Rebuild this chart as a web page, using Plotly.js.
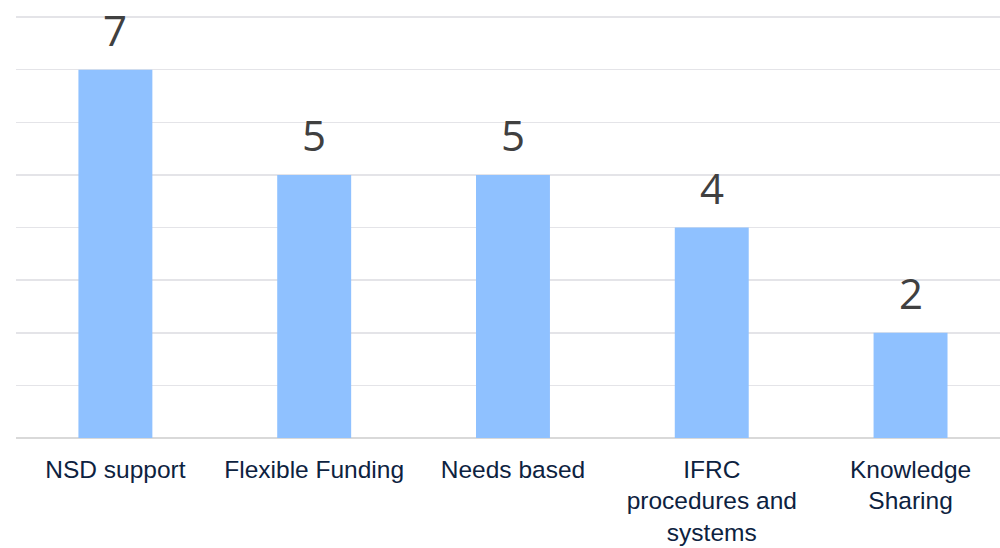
<!DOCTYPE html>
<html>
<head>
<meta charset="utf-8">
<script src="https://cdn.plot.ly/plotly-3.0.1.min.js"></script>
<style>html,body{margin:0;padding:0;background:#fff;}#chart{width:1000px;height:548px;}</style>
</head>
<body>
<div id="chart"></div>
<script>
const categories = ["NSD support", "Flexible Funding", "Needs based", "IFRC<br>procedures and<br>systems", "Knowledge<br>Sharing"];
const values = [7, 5, 5, 4, 2];
const valueLabels = ["7", "5", "5", "4", "2"];

const trace = {
  type: 'bar',
  x: categories,
  y: values,
  width: 0.372,
  marker: {color: '#8fc1ff'},
  hoverinfo: 'none'
};

const annotations = categories.map((c, i) => ({
  x: c, y: values[i], xref: 'x', yref: 'y',
  text: valueLabels[i], showarrow: false,
  yanchor: 'middle', yshift: 40,
  font: {family: 'Open Sans, sans-serif', size: 42, color: '#404040'}
}));

const layout = {
  width: 1000, height: 548,
  margin: {l: 16, r: 0, t: 16, b: 109.5},
  paper_bgcolor: '#ffffff', plot_bgcolor: '#ffffff',
  showlegend: false,
  xaxis: {
    range: [-0.5, 4.45],
    showgrid: false, zeroline: false,
    showline: false,
    ticks: '', ticklen: 0,
    ticklabelstandoff: 14,
    tickfont: {family: '"Liberation Sans", Arial, sans-serif', size: 24.5, color: '#0d2240'},
    fixedrange: true
  },
  yaxis: {
    range: [0, 8.02], dtick: 1, tick0: 0,
    showticklabels: false,
    showgrid: true, gridcolor: '#e4e4e8', gridwidth: 1.5,
    zeroline: true, zerolinecolor: '#d9d9d9', zerolinewidth: 2,
    showline: false, ticks: '', fixedrange: true
  },
  annotations: annotations
};

Plotly.newPlot('chart', [trace], layout, {displayModeBar: false, staticPlot: true});
</script>
</body>
</html>
